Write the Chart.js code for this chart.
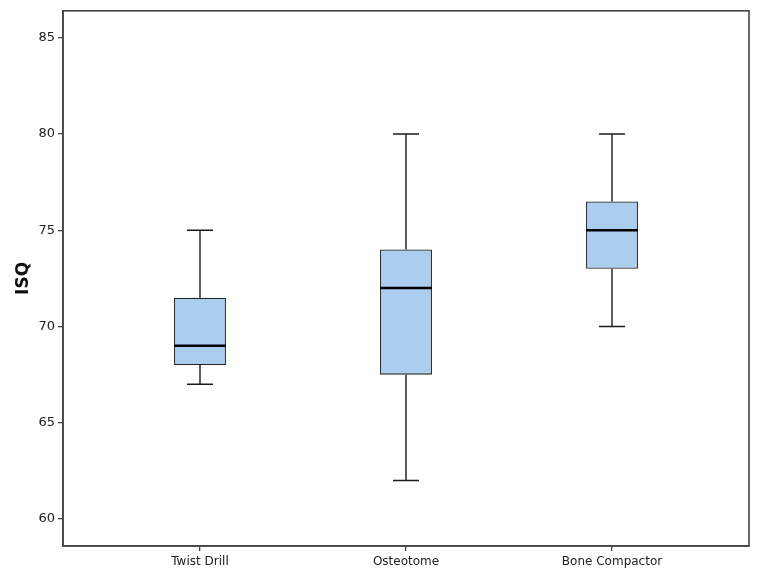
<!DOCTYPE html>
<html>
<head>
<meta charset="utf-8">
<script src="https://cdn.jsdelivr.net/npm/chart.js@4.4.0/dist/chart.umd.min.js"></script>
<style>
html,body{margin:0;padding:0;background:#fff;}
#wrap{width:758px;height:574px;position:relative;}
</style>
</head>
<body>
<div id="wrap"><canvas id="c" width="758" height="574"></canvas></div>
<script>
const categories = ['Twist Drill', 'Osteotome', 'Bone Compactor'];
const whiskerMin = [67, 62, 70];
const q1 = [68, 67.5, 73];
const median = [69, 72, 75];
const q3 = [71.5, 74, 76.5];
const whiskerMax = [75, 80, 80];
const yTicks = [60, 65, 70, 75, 80, 85];

const boxData = categories.map((c, i) => ({x: i, y: [q1[i], q3[i]]}));

const boxPlugin = {
  id: 'boxWhiskers',
  afterDatasetsDraw(chart) {
    const ctx = chart.ctx;
    const xs = chart.scales.x, ys = chart.scales.y;
    const meta = chart.getDatasetMeta(0);
    ctx.save();
    categories.forEach((c, i) => {
      const bar = meta.data[i];
      const cx = xs.getPixelForValue(i);
      const half = bar.width / 2;
      const capHalf = half / 2;
      const yMin = ys.getPixelForValue(whiskerMin[i]);
      const yQ1 = ys.getPixelForValue(q1[i]);
      const yMed = ys.getPixelForValue(median[i]);
      const yQ3 = ys.getPixelForValue(q3[i]);
      const yMax = ys.getPixelForValue(whiskerMax[i]);
      ctx.strokeStyle = '#1a1a1a';
      ctx.lineWidth = 1.4;
      ctx.beginPath();
      ctx.moveTo(cx, yQ3); ctx.lineTo(cx, yMax);
      ctx.moveTo(cx - capHalf, yMax); ctx.lineTo(cx + capHalf, yMax);
      ctx.moveTo(cx, yQ1); ctx.lineTo(cx, yMin);
      ctx.moveTo(cx - capHalf, yMin); ctx.lineTo(cx + capHalf, yMin);
      ctx.stroke();
      ctx.strokeStyle = '#000';
      ctx.lineWidth = 2.6;
      ctx.beginPath();
      ctx.moveTo(cx - half, yMed); ctx.lineTo(cx + half, yMed);
      ctx.stroke();
    });
    const a = chart.chartArea;
    ctx.strokeStyle = '#444';
    ctx.lineWidth = 1.6;
    ctx.strokeRect(a.left, a.top, a.right - a.left, a.bottom - a.top);
    ctx.restore();
  }
};

new Chart(document.getElementById('c'), {
  type: 'bar',
  data: {
    datasets: [{
      data: boxData,
      backgroundColor: '#abcdee',
      borderColor: '#222',
      borderWidth: 1.3,
      borderSkipped: false,
      barPercentage: 0.252,
      categoryPercentage: 1
    }]
  },
  options: {
    responsive: false,
    animation: false,
    devicePixelRatio: 1,
    layout: {padding: {top: 8, right: 9, left: 0, bottom: 0}},
    plugins: {legend: {display: false}, tooltip: {enabled: false}},
    scales: {
      x: {
        type: 'linear',
        min: -0.665,
        max: 2.665,
        offset: false,
        afterBuildTicks: s => { s.ticks = categories.map((c, i) => ({value: i})); },
        afterFit: s => { s.height = 28; },
        ticks: {
          autoSkip: false,
          maxRotation: 0,
          padding: 4,
          color: '#222',
          font: {family: 'DejaVu Sans', size: 12},
          callback: (v) => categories[v]
        },
        grid: {display: true, offset: false, drawOnChartArea: false, tickLength: 5, color: '#444', lineWidth: 1.3},
        border: {display: true, color: '#444', width: 1.6}
      },
      y: {
        min: 58.6,
        max: 86.4,
        afterBuildTicks: s => { s.ticks = yTicks.map(v => ({value: v})); },
        afterFit: s => { s.width = 63; },
        title: {display: true, text: 'ISQ', color: '#111', font: {family: 'DejaVu Sans', size: 17, weight: 'bold'}, padding: {top: 13, bottom: 0}},
        ticks: {
          color: '#222',
          padding: 3,
          font: {family: 'DejaVu Sans', size: 13}
        },
        grid: {display: true, drawOnChartArea: false, tickLength: 5, color: '#444', lineWidth: 1.3},
        border: {display: true, color: '#444', width: 1.6}
      }
    }
  },
  plugins: [boxPlugin]
});
</script>
</body>
</html>
